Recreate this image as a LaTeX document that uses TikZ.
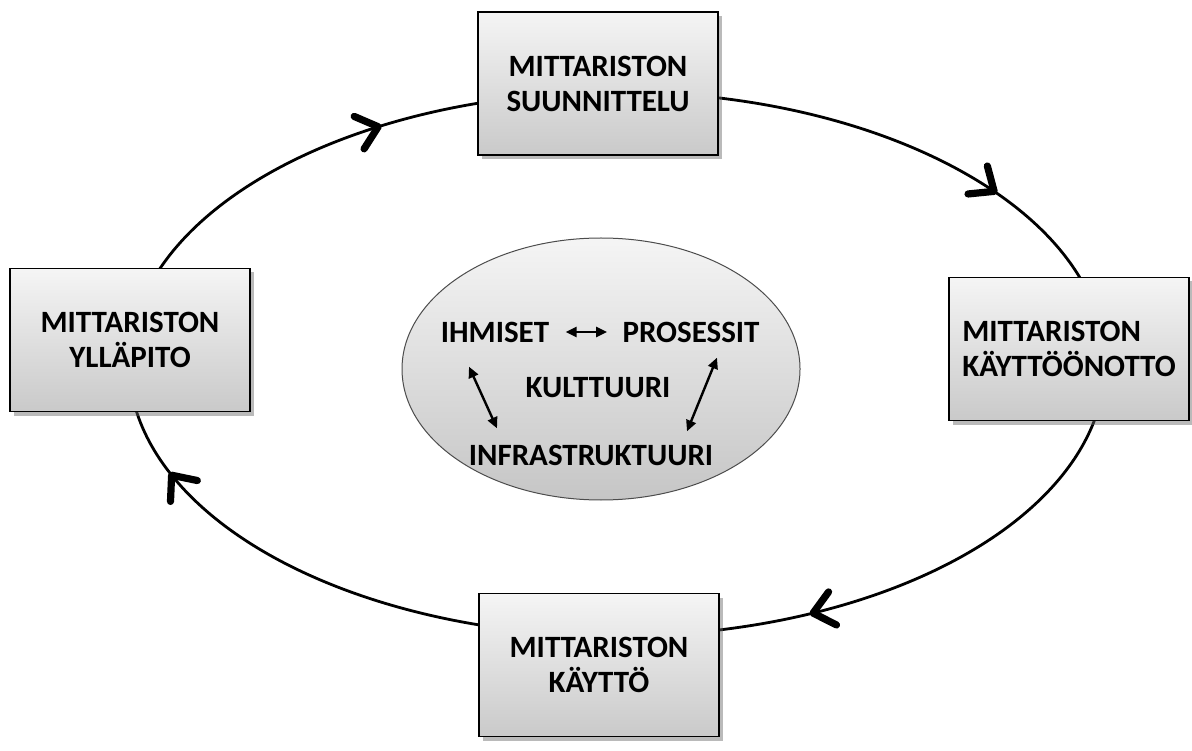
\documentclass[tikz,border=0pt]{standalone}
\usepackage{fontspec}
\setmainfont{Carlito}
\usetikzlibrary{calc,shapes.geometric,shadows,arrows.meta,decorations.markings}
\tikzset{%
  phase/.style={draw=black, line width=0.8pt, minimum width=120pt, minimum height=71.5pt,
    top color=gray!8, bottom color=gray!42,
    drop shadow={shadow xshift=2pt, shadow yshift=-2pt, opacity=0.45, fill=black!60},
    font=\bfseries\fontsize{15.5}{17.5}\selectfont, align=center},
  core/.style={ellipse, draw=black!70, line width=0.5pt, minimum width=199pt,
    minimum height=131pt, inner sep=0pt, top color=gray!8, bottom color=gray!45},
  word/.style={inner sep=0pt, font=\bfseries\fontsize{15.5}{17.5}\selectfont},
  link/.style={line width=1.2pt,
    {Triangle[length=5.5pt,width=5pt]}-{Triangle[length=5.5pt,width=5pt]}},
  ring arc/.style={line width=1.4pt, postaction={decorate},
    decoration={markings, mark=at position #1 with
      {\arrow{Straight Barb[length=10pt,width=17pt,line width=3.6pt,round]}}}},
}
\begin{document}
\begin{tikzpicture}[x=0.5pt,y=0.5pt]
  \useasboundingbox (0,0) rectangle (1192,750);
  % outer cycle
  \coordinate (ring) at (617,386);
  \coordinate (p-top) at ($(ring)+(92:488 and 272)$);
  \coordinate (p-right) at ($(ring)+(3:488 and 272)$);
  \coordinate (p-bottom) at ($(ring)+(-92:488 and 272)$);
  \coordinate (p-left) at ($(ring)+(175:488 and 272)$);
  \draw[ring arc=0.61] (p-left) arc[start angle=175, end angle=92, x radius=488, y radius=272];
  \draw[ring arc=0.68] (p-top) arc[start angle=92, end angle=3, x radius=488, y radius=272];
  \draw[ring arc=0.67] (p-right) arc[start angle=3, end angle=-92, x radius=488, y radius=272];
  \draw[ring arc=0.77] (p-bottom) arc[start angle=-92, end angle=-185, x radius=488, y radius=272];
  % phases
  \node[phase] (plan) at (598,666.5) {MITTARISTON\\SUUNNITTELU};
  \node[phase, align=left] (deploy) at (1069,401) {MITTARISTON\\KÄYTTÖÖNOTTO};
  \node[phase] (use) at (599,85) {MITTARISTON\\KÄYTTÖ};
  \node[phase] (upkeep) at (130,410) {MITTARISTON\\YLLÄPITO};
  % core
  \node[core] (culture) at (601,381) {};
  \node[word] (people) at (495,418) {IHMISET};
  \node[word] (process) at (691,418) {PROSESSIT};
  \node[word] (kult) at (598,362) {KULTTUURI};
  \node[word] (infra) at (591,295) {INFRASTRUKTUURI};
  \draw[link, shorten <=8pt, shorten >=7.5pt] (people) -- (process);
  \draw[link] ([shift={(-26,-24)}]people.south) -- ([shift={(-94,16)}]infra.north);
  \draw[link] ([shift={(26,-15)}]process.south) -- ([shift={(96,13)}]infra.north);
\end{tikzpicture}
\end{document}
